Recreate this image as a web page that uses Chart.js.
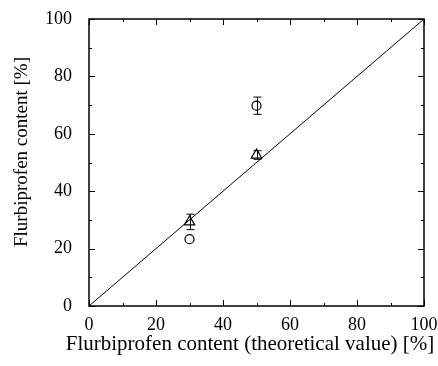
<!DOCTYPE html>
<html>
<head>
<meta charset="utf-8">
<script src="https://cdn.jsdelivr.net/npm/chart.js@4/dist/chart.umd.min.js"></script>
<style>
  html, body { margin: 0; padding: 0; background: #fff; }
  #wrap { width: 438px; height: 366px; }
</style>
</head>
<body>
<div id="wrap"><canvas id="myChart"></canvas></div>
<script>
// theoretical content (x) and measured content (y) with error bars
const circleX = [30, 50];
const circleY = [23.3, 69.8];
const circleErr = [0, 3];

const triangleX = [30, 50];
const triangleY = [29.3, 52.6];
const triangleErr = [2.7, 1.5];

const lineX = [0, 100];
const lineY = [0, 100];

const tickValues = [0, 20, 40, 60, 80, 100];

const xTitle = 'Flurbiprofen content (theoretical value) [%]';
const yTitle = 'Flurbiprofen content [%]';

const toPoints = (xs, ys) => xs.map((x, i) => ({ x: x, y: ys[i] }));

const serif = "'Liberation Serif', 'DejaVu Serif', serif";

// error bars, frame with inward ticks, axis titles
const extrasPlugin = {
    id: 'extras',
    afterDatasetsDraw(chart) {
        const ctx = chart.ctx;
        const xs = chart.scales.x, ys = chart.scales.y;
        const area = chart.chartArea;
        ctx.save();
        ctx.strokeStyle = '#000';
        ctx.lineWidth = 1;

        const drawErr = (xv, yv, ev) => {
            for (let i = 0; i < xv.length; i++) {
                if (!ev[i]) continue;
                const px = Math.round(xs.getPixelForValue(xv[i])) + 0.5;
                const top = ys.getPixelForValue(yv[i] + ev[i]);
                const bot = ys.getPixelForValue(yv[i] - ev[i]);
                ctx.beginPath();
                ctx.moveTo(px, top); ctx.lineTo(px, bot);
                ctx.moveTo(px - 4, top); ctx.lineTo(px + 4, top);
                ctx.moveTo(px - 4, bot); ctx.lineTo(px + 4, bot);
                ctx.stroke();
            }
        };
        drawErr(circleX, circleY, circleErr);
        drawErr(triangleX, triangleY, triangleErr);

        // frame
        ctx.lineWidth = 1.5;
        ctx.strokeRect(area.left, area.top, area.right - area.left, area.bottom - area.top);

        // ticks on all four sides
        ctx.lineWidth = 1;
        for (let v = 0; v <= 100; v += 10) {
            const len = (v % 20 === 0) ? 6 : 3;
            const px = Math.round(xs.getPixelForValue(v)) + 0.5;
            const py = Math.round(ys.getPixelForValue(v)) + 0.5;
            ctx.beginPath();
            ctx.moveTo(px, area.bottom); ctx.lineTo(px, area.bottom - len);
            ctx.moveTo(px, area.top); ctx.lineTo(px, area.top + len);
            ctx.moveTo(area.left, py); ctx.lineTo(area.left + len, py);
            ctx.moveTo(area.right, py); ctx.lineTo(area.right - len, py);
            ctx.stroke();
        }

        // axis titles
        ctx.fillStyle = '#000';
        ctx.font = '21px ' + serif;
        ctx.textAlign = 'center';
        ctx.textBaseline = 'middle';
        ctx.fillText(xTitle, 250, 344);
        ctx.translate(22, 152);
        ctx.rotate(-Math.PI / 2);
        ctx.font = '19px ' + serif;
        ctx.fillText(yTitle, 0, 0);
        ctx.restore();
    }
};

new Chart(document.getElementById('myChart'), {
    type: 'scatter',
    data: {
        datasets: [
            {
                type: 'line',
                data: toPoints(lineX, lineY),
                borderColor: '#000',
                borderWidth: 1,
                pointRadius: 0,
                fill: false
            },
            {
                data: toPoints(circleX, circleY),
                pointStyle: 'circle',
                pointRadius: 4.5,
                pointBorderWidth: 1.2,
                pointBorderColor: '#000',
                pointBackgroundColor: '#fff'
            },
            {
                data: toPoints(triangleX, triangleY),
                pointStyle: 'triangle',
                pointRadius: 6,
                pointBorderWidth: 1.2,
                pointBorderColor: '#000',
                pointBackgroundColor: '#fff'
            }
        ]
    },
    options: {
        responsive: true,
        maintainAspectRatio: false,
        animation: false,
        layout: { padding: { top: 19, right: 14, left: 0, bottom: 0 } },
        plugins: { legend: { display: false }, tooltip: { enabled: false } },
        scales: {
            x: {
                type: 'linear',
                min: 0, max: 100,
                afterBuildTicks: (s) => { s.ticks = tickValues.map(v => ({ value: v })); },
                afterFit: (s) => { s.height = 60; s.paddingLeft = 0; s.paddingRight = 0; },
                grid: { display: false, drawTicks: false },
                border: { display: false },
                ticks: { color: '#000', font: { family: serif, size: 18 }, padding: 8, maxRotation: 0 }
            },
            y: {
                type: 'linear',
                min: 0, max: 100,
                afterBuildTicks: (s) => { s.ticks = tickValues.map(v => ({ value: v })); },
                afterFit: (s) => { s.width = 89; s.paddingTop = 0; s.paddingBottom = 0; },
                grid: { display: false, drawTicks: false },
                border: { display: false },
                ticks: { color: '#000', font: { family: serif, size: 18 }, padding: 17 }
            }
        }
    },
    plugins: [extrasPlugin]
});
</script>
</body>
</html>
